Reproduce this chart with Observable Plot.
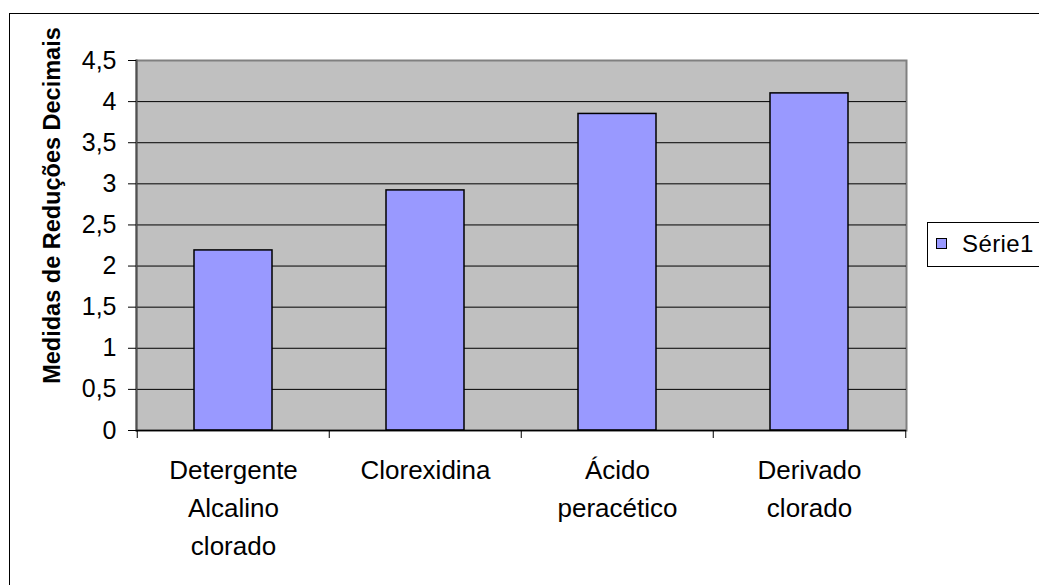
<!DOCTYPE html>
<html>
<head>
<meta charset="utf-8">
<script src="https://cdn.jsdelivr.net/npm/d3@7"></script>
<script src="https://cdn.jsdelivr.net/npm/@observablehq/plot@0.6"></script>
<style>
  html, body { margin: 0; padding: 0; background: white; overflow: hidden; width: 1039px; height: 585px; }
  #wrap { position: relative; width: 1039px; height: 585px; font-family: "Liberation Sans", Arial, sans-serif; }
  #border { position: absolute; left: 9px; top: 13px; width: 1200px; height: 800px; border: 1.5px solid #000; box-sizing: border-box; pointer-events: none; }
  #legend { position: absolute; left: 927px; top: 222px; width: 160px; height: 45px; border: 1px solid #000; box-sizing: border-box; background: white; }
  #legend .sw { position: absolute; left: 8px; top: 15px; width: 11px; height: 11px; background: #9999ff; border: 1px solid #000; box-sizing: border-box; }
  #legend .lb { position: absolute; left: 34px; top: 7px; font-size: 24px; letter-spacing: 0.4px; line-height: 28px; color: #000; }
</style>
</head>
<body>
<div id="wrap">
  <div id="chart"></div>
  <div id="legend"><div class="sw"></div><div class="lb"></div></div>
  <div id="border"></div>
</div>
<script>
const categories = ["Detergente\nAlcalino\nclorado", "Clorexidina", "Ácido\nperacético", "Derivado\nclorado"];
const values = [2.19, 2.92, 3.85, 4.10];
const yTicks = [0, 0.5, 1, 1.5, 2, 2.5, 3, 3.5, 4, 4.5];
const seriesName = "Série1";
const yTitle = "Medidas de Reduções Decimais";

const data = categories.map((c, i) => ({cat: c, val: values[i]}));

const W = 1039, H = 585, ML = 136, MR = 133, MT = 60, MB = 155;
const step = (W - ML - MR) / categories.length;

const chart = Plot.plot({
  width: W, height: H,
  marginLeft: ML, marginRight: MR, marginTop: MT, marginBottom: MB,
  style: {fontFamily: "'Liberation Sans', Arial, sans-serif", background: "white", color: "#000", overflow: "visible"},
  x: {domain: categories, paddingInner: 0.595, paddingOuter: 0.2975, align: 0.5},
  y: {domain: [0, 4.5]},
  marks: [
    Plot.frame({fill: "#c0c0c0", stroke: "#808080", strokeWidth: 2}),
    Plot.ruleY(yTicks.filter(t => t > 0 && t < 4.5), {stroke: "#000", strokeWidth: 1}),
    Plot.barY(data, {x: "cat", y: "val", fill: "#9999ff", stroke: "#000", strokeWidth: 1.5}),
    Plot.frame({anchor: "left", stroke: "#505050", strokeWidth: 2}),
    Plot.ruleY([0], {stroke: "#000", strokeWidth: 1.5}),
    Plot.ruleX(categories, {dx: -step / 2, insetTop: H - MT - MB, insetBottom: -8, stroke: "#000"}),
    Plot.ruleX([categories[categories.length - 1]], {dx: step / 2, insetTop: H - MT - MB, insetBottom: -8, stroke: "#000"}),
    Plot.axisY({ticks: yTicks, tickFormat: d => String(d).replace(".", ","), tickSize: 8, tickPadding: 12, fontSize: 25, label: null, stroke: "#000"}),
    Plot.axisX({tickSize: 0, tickPadding: 22, fontSize: 26, lineHeight: 1.45, label: null, lineAnchor: "top"}),
    Plot.text([yTitle], {frameAnchor: "left", textAnchor: "middle", rotate: -90, dx: -84, dy: -40, fontWeight: "bold", fontSize: 23.5, fill: "#000"})
  ]
});
document.getElementById("chart").appendChild(chart);
document.querySelector("#legend .lb").textContent = seriesName;
</script>
</body>
</html>
